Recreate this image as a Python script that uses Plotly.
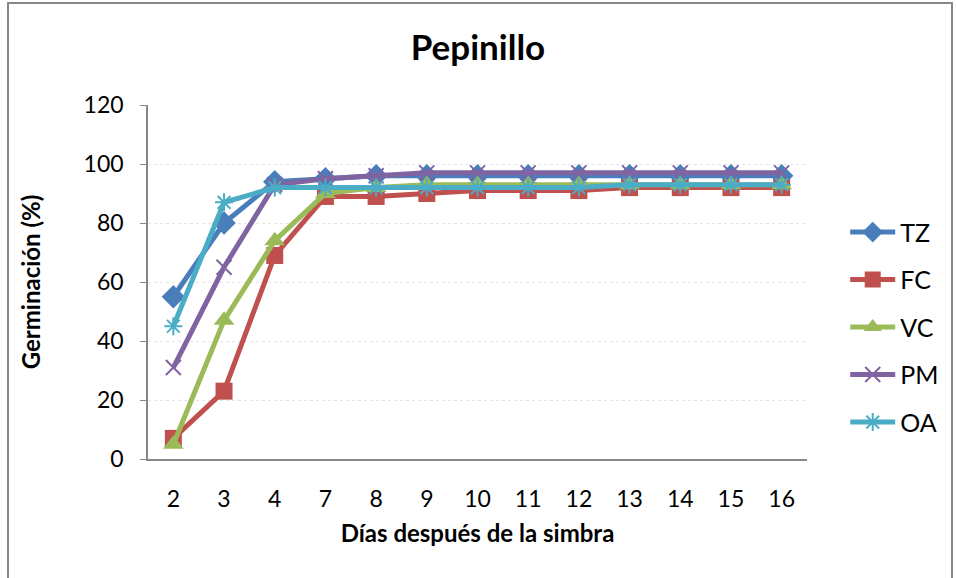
import plotly.graph_objects as go

dias = ["2", "3", "4", "7", "8", "9", "10", "11", "12", "13", "14", "15", "16"]
tz = [55, 80, 94, 95, 96, 96, 96, 96, 96, 96, 96, 96, 96]
fc = [7, 23, 69, 89, 89, 90, 91, 91, 91, 92, 92, 92, 92]
vc = [5, 47, 74, 90, 92, 93, 93, 93, 93, 93, 93, 93, 93]
pm = [31, 65, 93, 95, 96, 97, 97, 97, 97, 97, 97, 97, 97]
oa = [45, 87, 92, 92, 92, 92, 92, 92, 92, 93, 93, 93, 93]

series = [
    ("TZ", tz, "#4A7EBB", "diamond", 18, 0),
    ("FC", fc, "#C0504D", "square", 17, 0),
    ("VC", vc, "#9BBB59", "triangle-up", 18, 0),
    ("PM", pm, "#8064A2", "x-thin-open", 15, 2),
    ("OA", oa, "#4BACC6", "asterisk-open", 15, 2),
]

fig = go.Figure()
for name, vals, col, sym, size, lw in series:
    fig.add_trace(go.Scatter(
        x=dias, y=vals, name=name, mode="lines+markers", legendgroup=name,
        line=dict(color=col, width=5),
        marker=dict(symbol=sym, size=size, color=col,
                    line=dict(color=col, width=lw)),
    ))

font = "Lato, 'Open Sans', sans-serif"
fig.update_layout(
    width=956, height=578,
    margin=dict(l=148, r=149, t=105, b=119),
    paper_bgcolor="white", plot_bgcolor="white",
    font=dict(family=font, size=23, color="black"),
    title=dict(text="<b>Pepinillo</b>", x=0.5, xanchor="center",
               y=0.917, yanchor="middle", font=dict(size=35, family=font)),
    xaxis=dict(type="category", range=[-0.5, 12.5], showgrid=False,
               showline=True, linecolor="#868686", linewidth=1.5,
               ticks="", tickfont=dict(size=23), ticklabelstandoff=19,
               title=dict(text="<b>Días después de la simbra</b>",
                          font=dict(size=24), standoff=14)),
    yaxis=dict(range=[0, 120], dtick=20, showgrid=True,
               gridcolor="#E4E4E4", griddash="dot", gridwidth=1,
               showline=True, linecolor="#868686", linewidth=1.5,
               ticks="outside", ticklen=6, tickcolor="#868686",
               tickfont=dict(size=23), zeroline=False, ticklabelstandoff=12,
               title=dict(text="<b>Germinación (%)</b>",
                          font=dict(size=24), standoff=36)),
    legend=dict(x=1.058, xanchor="left", y=0.372, yanchor="middle",
                font=dict(size=25), tracegroupgap=12, itemwidth=45,
                bgcolor="rgba(0,0,0,0)"),
    shapes=[dict(type="rect", xref="paper", yref="paper",
                 x0=-140/659, x1=(952-148)/659,
                 y0=-(580-459)/354, y1=(459-3)/354,
                 line=dict(color="#868686", width=2), fillcolor="rgba(0,0,0,0)",
                 layer="below")],
)

fig.write_html("out.html")
